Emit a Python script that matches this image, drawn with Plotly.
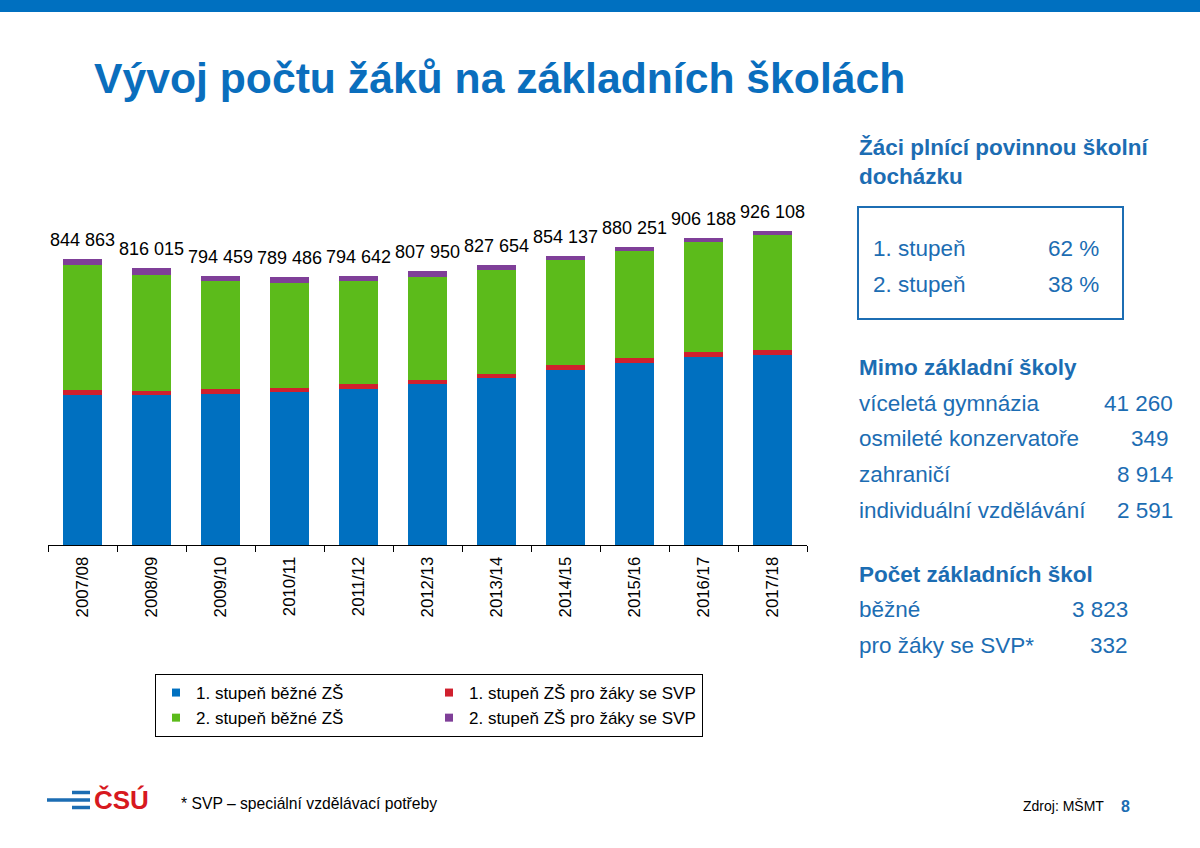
import plotly.graph_objects as go

# Data
roky = ['2007/08', '2008/09', '2009/10', '2010/11', '2011/12', '2012/13',
        '2013/14', '2014/15', '2015/16', '2016/17', '2017/18']
st1_bezne = [443000, 442000, 446000, 451000, 460000, 475000,
             492000, 516000, 538000, 555000, 562000]
st1_svp = [13000, 13600, 13800, 13700, 13700, 12800,
           13700, 13700, 14800, 13800, 13800]
st2_bezne = [370863, 341815, 317959, 309086, 306142, 304350,
             307154, 310737, 313651, 324588, 338508]
st2_svp = [18000, 18600, 16700, 15700, 14800, 15800,
           14800, 13700, 13800, 12800, 11800]
celkem = [844863, 816015, 794459, 789486, 794642, 807950,
          827654, 854137, 880251, 906188, 926108]

# right panel
podil_stupen = ['1. stupeň', '2. stupeň']
podil_hodnota = ['62 %', '38 %']
mimo_nazev = ['víceletá gymnázia', 'osmileté konzervatoře', 'zahraničí', 'individuální vzdělávání']
mimo_hodnota = ['41 260', '349', '8 914', '2 591']
skoly_nazev = ['běžné', 'pro žáky se SVP*']
skoly_hodnota = ['3 823', '332']

FONT = 'Liberation Sans, Arial, sans-serif'
BLUE_TXT = '#1C6DB3'

# plot area in pixels
L, R, T, B = 48, 807, 200, 545
W, H = R - L, B - T


def px(x):
    return (x - L) / W


def py(y):
    return (B - y) / H


series = [
    ('1. stupeň běžné ZŠ', st1_bezne, '#0070C0'),
    ('1. stupeň ZŠ pro žáky se SVP', st1_svp, '#D0202E'),
    ('2. stupeň běžné ZŠ', st2_bezne, '#5CBB1B'),
    ('2. stupeň ZŠ pro žáky se SVP', st2_svp, '#7F3F98'),
]

data = []
for name, vals, col in series:
    data.append(go.Bar(x=roky, y=vals, name=name, marker=dict(color=col, line=dict(width=0)),
                       showlegend=False, hoverinfo='y'))
# legend entries with small squares
for name, vals, col in series:
    data.append(go.Scatter(x=[None], y=[None], mode='markers', name=name,
                           marker=dict(symbol='square', size=8, color=col)))

annotations = []
# totals above bars
for r, c in zip(roky, celkem):
    annotations.append(dict(x=r, y=c, xref='x', yref='y', text=f'{c:,}'.replace(',', ' '),
                            showarrow=False, yanchor='middle', yshift=19,
                            font=dict(size=18, color='black', family=FONT)))


def txt(x, y, text, anchor='left', size=22.5, color=BLUE_TXT, bold=False):
    if bold:
        text = '<b>' + text + '</b>'
    annotations.append(dict(x=px(x), y=py(y), xref='paper', yref='paper', text=text,
                            showarrow=False, xanchor=anchor, yanchor='middle',
                            font=dict(size=size, color=color, family=FONT)))


txt(857, 148, 'Žáci plnící povinnou školní', bold=True)
txt(857, 176, 'docházku', bold=True)
for i, (s, v) in enumerate(zip(podil_stupen, podil_hodnota)):
    txt(871, 248 + i * 36, s)
    txt(1101, 248 + i * 36, v, anchor='right')

txt(857, 367, 'Mimo základní školy', bold=True)
for i, (s, v) in enumerate(zip(mimo_nazev, mimo_hodnota)):
    txt(857, 403 + i * 35.7, s)
    txt(1175 if v != '349' else 1171, 403 + i * 35.7, v, anchor='right')

txt(857, 574, 'Počet základních škol', bold=True)
for i, (s, v) in enumerate(zip(skoly_nazev, skoly_hodnota)):
    txt(857, 609 + i * 36, s)
    txt(1130, 609 + i * 36, v, anchor='right')

# footer
txt(179, 803, '* SVP – speciální vzdělávací potřeby', size=15.7, color='black')
txt(1021, 806, 'Zdroj: MŠMT', size=14, color='black')
txt(1119, 806, '8', size=16, color=BLUE_TXT, bold=True)
txt(92, 800, 'ČSÚ', size=26, color='#D71920', bold=True)

shapes = [
    # top stripe
    dict(type='rect', xref='paper', yref='paper', x0=px(0), x1=px(1200), y0=py(0), y1=py(12),
         fillcolor='#0070C0', line=dict(width=0)),
    # box round percentages
    dict(type='rect', xref='paper', yref='paper', x0=px(858), x1=px(1123), y0=py(207), y1=py(319),
         line=dict(color=BLUE_TXT, width=2)),
    # logo lines
    dict(type='line', xref='paper', yref='paper', x0=px(72), x1=px(90), y0=py(792.5), y1=py(792.5),
         line=dict(color='#1C6DB3', width=3.5)),
    dict(type='line', xref='paper', yref='paper', x0=px(47), x1=px(90), y0=py(800), y1=py(800),
         line=dict(color='#1C6DB3', width=3.5)),
    dict(type='line', xref='paper', yref='paper', x0=px(72), x1=px(90), y0=py(807.5), y1=py(807.5),
         line=dict(color='#1C6DB3', width=3.5)),
]

layout = dict(
    width=1200, height=848,
    margin=dict(l=L, r=1200 - R, t=T, b=848 - B),
    paper_bgcolor='white', plot_bgcolor='white',
    barmode='stack', bargap=0.435,
    font=dict(family=FONT, color='black'),
    title=dict(text='<b>Vývoj počtu žáků na základních školách</b>', x=94 / 1200, xanchor='left',
               xref='container', y=1 - 78 / 848, yanchor='middle', yref='container',
               font=dict(size=42.7, color='#0A6EBD', family=FONT)),
    xaxis=dict(type='category', tickangle=-90, tickfont=dict(size=16.8, color='black'),
               showline=True, linecolor='black', linewidth=1, ticks='outside', ticklen=6,
               tickcolor='black', tickson='boundaries', showgrid=False, zeroline=False,
               ticklabelstandoff=4),
    yaxis=dict(range=[0, 1018000], visible=False, showgrid=False),
    legend=dict(orientation='h', x=px(155), y=py(674), xanchor='left', yanchor='top',
                bordercolor='black', borderwidth=1, bgcolor='white', traceorder='normal',
                font=dict(size=17, color='black', family=FONT),
                entrywidth=228, entrywidthmode='pixels', itemwidth=30, tracegroupgap=0),
    annotations=annotations,
    shapes=shapes,
)

fig = go.Figure(data=data, layout=layout)
# the page body has a default 8px margin; remove it so the slide sits at 0,0
fig.write_html('out.html', config={'displayModeBar': False},
               post_script="document.body.style.margin='0';")
